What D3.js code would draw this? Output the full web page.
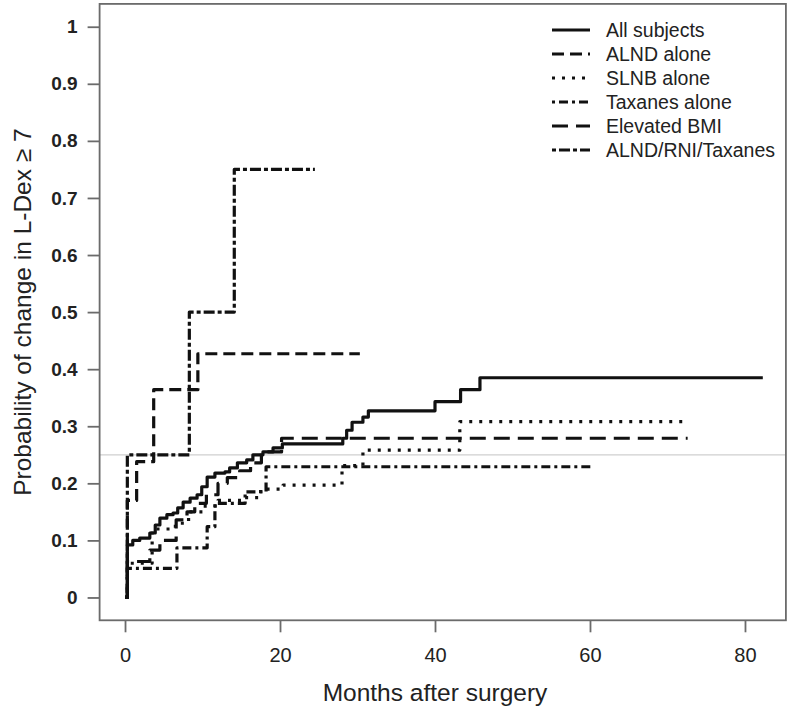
<!DOCTYPE html>
<html><head><meta charset="utf-8">
<script src="https://cdn.jsdelivr.net/npm/d3@7/dist/d3.min.js"></script>
<style>body{margin:0;background:#fff}svg{display:block}</style>
</head><body>
<svg id="chart" width="792" height="712"></svg>
<script>
// ---- data (months, cumulative probability) ----
const seriesNames = ["All subjects","ALND alone","SLNB alone","Taxanes alone","Elevated BMI","ALND/RNI/Taxanes"];

const allTimes = [0,0.3,1.0,1.9,3.2,3.9,4.5,5.4,6.2,6.8,7.5,8.4,9.3,9.9,10.6,11.6,12.9,13.5,14.5,15.7,16.5,17.8,19.1,20.3,28.1,28.6,29.3,30.7,31.4,40.0,43.3,45.8];
const allProbs = [0,0.092,0.10,0.104,0.113,0.127,0.139,0.145,0.148,0.157,0.167,0.174,0.18,0.194,0.211,0.218,0.22,0.227,0.236,0.241,0.25,0.255,0.262,0.269,0.279,0.293,0.307,0.316,0.327,0.343,0.364,0.385];
const allEnd = 82.3;

const alndTimes = [0,0.3,1.5,3.7,9.4];
const alndProbs = [0,0.17,0.238,0.364,0.427];
const alndEnd = 30.3;

const slnbTimes = [0,0.3,3.5,6.5,8.2,10.0,12.0,15.0,17.5,20.4,28.0,30.7,43.2];
const slnbProbs = [0,0.06,0.12,0.13,0.15,0.16,0.17,0.175,0.19,0.197,0.231,0.258,0.308];
const slnbEnd = 72.6;

const taxTimes = [0,0.3,6.7,10.6,11.6,15.5,18.2];
const taxProbs = [0,0.051,0.087,0.124,0.165,0.185,0.229];
const taxEnd = 60.2;

const bmiTimes = [0,0.3,3.2,4.5,6.6,8.0,9.0,10.5,12.0,13.2,14.8,16.2,17.6,20.2];
const bmiProbs = [0,0.063,0.083,0.10,0.136,0.15,0.165,0.18,0.20,0.21,0.222,0.236,0.255,0.279];
const bmiEnd = 72.6;

const rniTimes = [0,0.3,8.3,14.1];
const rniProbs = [0,0.25,0.5,0.75];
const rniEnd = 24.5;

const xTicks = [0,20,40,60,80];
const yTicks = [0,0.1,0.2,0.3,0.4,0.5,0.6,0.7,0.8,0.9,1];
const yTickLabels = ["0","0.1","0.2","0.3","0.4","0.5","0.6","0.7","0.8","0.9","1"];
const refLine = 0.25;

// ---- styles ----
const dashes = ["none","12,6","3,7","3,4,9,4","16,8","4,3,11,3"];
const FONT = "Liberation Sans, Arial, sans-serif";

const svg = d3.select("#chart");
const x = d3.scaleLinear().domain([-3.28,85.28]).range([99.6,785.9]);
const y = d3.scaleLinear().domain([-0.04,1.04]).range([620.3,3.9]);

const series = [
  {t:allTimes,p:allProbs,end:allEnd},
  {t:alndTimes,p:alndProbs,end:alndEnd},
  {t:slnbTimes,p:slnbProbs,end:slnbEnd},
  {t:taxTimes,p:taxProbs,end:taxEnd},
  {t:bmiTimes,p:bmiProbs,end:bmiEnd},
  {t:rniTimes,p:rniProbs,end:rniEnd}
].map((s,i)=>{
  const pts = s.t.map((t,j)=>[t,s.p[j]]);
  pts.push([s.end,s.p[s.p.length-1]]);
  return {name:seriesNames[i],pts,dash:dashes[i]};
});

// reference line
svg.append("line")
  .attr("x1",x.range()[0]).attr("x2",x.range()[1])
  .attr("y1",y(refLine)).attr("y2",y(refLine))
  .attr("stroke","#cfcfcf").attr("stroke-width",1.2);

// curves
const line = d3.line().x(d=>x(d[0])).y(d=>y(d[1])).curve(d3.curveStepAfter);
svg.append("g").selectAll("path").data(series).join("path")
  .attr("d",d=>line(d.pts))
  .attr("fill","none").attr("stroke","#111")
  .attr("stroke-width",3.2)
  .attr("stroke-dasharray",d=>d.dash)
  .attr("stroke-linejoin","round");

// box
svg.append("rect")
  .attr("x",x.range()[0]).attr("y",y.range()[1])
  .attr("width",x.range()[1]-x.range()[0]).attr("height",y.range()[0]-y.range()[1])
  .attr("fill","none").attr("stroke","#6b6b6b").attr("stroke-width",1.8);

// axes
const xAxis = svg.append("g").attr("transform",`translate(0,${y.range()[0]})`)
  .call(d3.axisBottom(x).tickValues(xTicks).tickSize(12).tickPadding(16).tickFormat(d3.format("d")));
xAxis.select(".domain").remove();
xAxis.selectAll("line").attr("stroke","#6b6b6b").attr("stroke-width",1.8);
xAxis.selectAll("text").attr("font-family",FONT)
  .attr("font-size",20).attr("fill","#222");

const yAxis = svg.append("g").attr("transform",`translate(${x.range()[0]},0)`)
  .call(d3.axisLeft(y).tickValues(yTicks).tickSize(12).tickPadding(10).tickFormat((d,i)=>yTickLabels[i]));
yAxis.select(".domain").remove();
yAxis.selectAll("line").attr("stroke","#6b6b6b").attr("stroke-width",1.8);
yAxis.selectAll("text").attr("font-family",FONT)
  .attr("font-size",19).attr("font-weight","bold").attr("fill","#222");

// axis titles
svg.append("text").attr("x",(x(0)+x(80))/2).attr("y",701)
  .attr("text-anchor","middle").attr("font-family",FONT)
  .attr("font-size",24.5).attr("fill","#222").text("Months after surgery");
svg.append("text").attr("transform",`translate(31,${(y(0)+y(1))/2}) rotate(-90)`)
  .attr("text-anchor","middle").attr("font-family",FONT)
  .attr("font-size",24.5).attr("fill","#222").text("Probability of change in L-Dex \u2265 7");

// legend
const lg = svg.append("g");
series.forEach((s,i)=>{
  const yy = 30 + i*24;
  lg.append("line").attr("x1",552).attr("x2",590).attr("y1",yy).attr("y2",yy)
    .attr("stroke","#111").attr("stroke-width",3).attr("stroke-dasharray",s.dash);
  lg.append("text").attr("x",606).attr("y",yy).attr("dy","0.35em")
    .attr("font-family",FONT).attr("font-size",19.5)
    .attr("fill","#222").text(s.name);
});
</script>
</body></html>
